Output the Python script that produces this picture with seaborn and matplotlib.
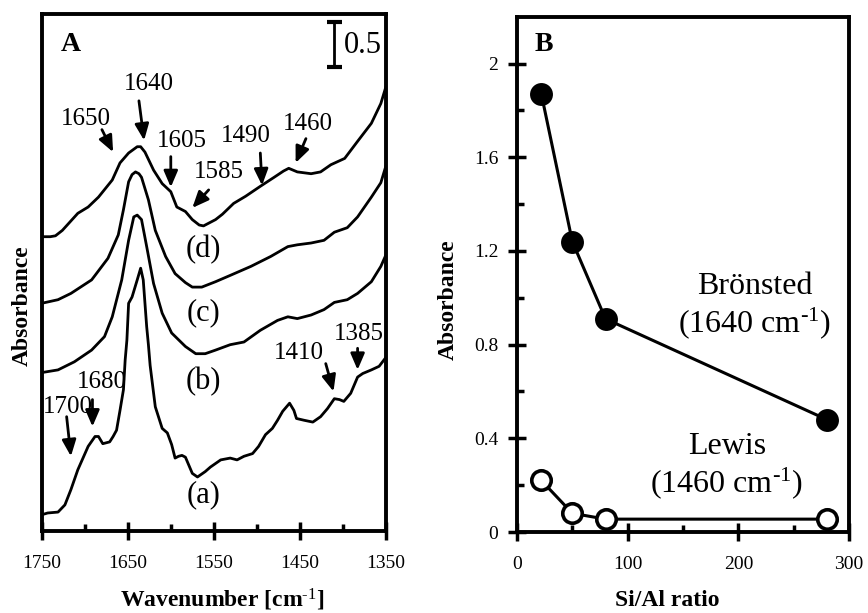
import matplotlib
matplotlib.use("Agg")
import matplotlib.pyplot as plt
import pandas as pd
import seaborn as sns
from matplotlib.ticker import FixedLocator

# ---------------- Panel A: IR spectra of adsorbed pyridine (offset stacked) ----------------
wn_a = [1750, 1743, 1731, 1723, 1716, 1708, 1696, 1688, 1684, 1679, 1671, 1667, 1663, 1659,
        1655, 1653, 1651, 1649, 1645, 1639, 1635, 1632, 1628, 1626, 1624, 1618, 1610, 1604,
        1599, 1595, 1591, 1587, 1583, 1575, 1569, 1560, 1554, 1542, 1531, 1523, 1515, 1505,
        1498, 1490, 1482, 1476, 1470, 1462, 1457, 1454, 1445, 1435, 1426, 1418, 1410, 1404,
        1399, 1391, 1383, 1377, 1367, 1358, 1350]
abs_a = [0.18, 0.20, 0.21, 0.29, 0.46, 0.68, 0.94, 1.05, 1.05, 0.97, 0.99, 1.05, 1.12, 1.34,
         1.57, 1.90, 2.12, 2.53, 2.60, 2.79, 2.92, 2.79, 2.27, 2.07, 1.84, 1.38, 1.14, 1.09,
         0.96, 0.81, 0.83, 0.84, 0.82, 0.64, 0.60, 0.66, 0.71, 0.79, 0.81, 0.79, 0.83, 0.86,
         0.94, 1.07, 1.14, 1.23, 1.33, 1.42, 1.34, 1.25, 1.23, 1.21, 1.27, 1.36, 1.47, 1.46,
         1.44, 1.53, 1.71, 1.75, 1.79, 1.83, 1.93]

wn_b = [1750, 1731, 1712, 1692, 1677, 1668, 1657, 1649, 1643, 1639, 1634, 1628, 1620, 1610,
        1599, 1583, 1571, 1560, 1548, 1531, 1515, 1496, 1476, 1464, 1453, 1437, 1422, 1410,
        1395, 1383, 1367, 1356, 1350]
abs_b = [1.76, 1.79, 1.88, 2.01, 2.16, 2.38, 2.79, 3.23, 3.49, 3.51, 3.46, 3.16, 2.75, 2.42,
         2.20, 2.05, 1.97, 1.97, 2.01, 2.07, 2.10, 2.23, 2.34, 2.38, 2.36, 2.40, 2.46, 2.54,
         2.57, 2.64, 2.77, 2.94, 3.07]

wn_c = [1750, 1731, 1716, 1692, 1688, 1673, 1661, 1655, 1649, 1645, 1641, 1637, 1634, 1626,
        1618, 1606, 1595, 1583, 1575, 1564, 1548, 1531, 1507, 1484, 1464, 1453, 1437, 1422,
        1410, 1395, 1383, 1367, 1356, 1350]
abs_c = [2.53, 2.57, 2.64, 2.79, 2.84, 3.03, 3.29, 3.57, 3.88, 3.96, 3.99, 3.97, 3.93, 3.68,
         3.34, 3.05, 2.86, 2.76, 2.71, 2.71, 2.77, 2.84, 2.94, 3.05, 3.16, 3.18, 3.20, 3.23,
         3.32, 3.37, 3.49, 3.71, 3.87, 4.06]

wn_d = [1750, 1740, 1734, 1726, 1708, 1696, 1684, 1668, 1659, 1649, 1639, 1635, 1630, 1620,
        1610, 1600, 1593, 1583, 1575, 1567, 1562, 1556, 1548, 1540, 1527, 1513, 1496, 1480,
        1469, 1463, 1453, 1437, 1426, 1414, 1398, 1383, 1367, 1356, 1350]
abs_d = [3.27, 3.27, 3.28, 3.34, 3.53, 3.60, 3.71, 3.90, 4.09, 4.20, 4.27, 4.27, 4.21, 4.01,
         3.86, 3.77, 3.60, 3.55, 3.46, 3.40, 3.39, 3.42, 3.46, 3.52, 3.64, 3.72, 3.83, 3.93,
         4.00, 4.03, 3.99, 3.97, 3.99, 4.07, 4.14, 4.33, 4.53, 4.75, 4.94]

sample_names = ["(a)", "(b)", "(c)", "(d)"]
x_ticks_a = [1750, 1650, 1550, 1450, 1350]

# peak labels: (text, text position, arrow tail, arrow tip)
peak_labels = [
    ("1650", (1699, 4.58), (1680, 4.46), (1667, 4.21)),
    ("1640", (1626, 4.97), (1637, 4.78), (1631, 4.34)),
    ("1605", (1587, 4.33), (1600, 4.16), (1600, 3.82)),
    ("1585", (1544, 3.99), (1556, 3.79), (1575, 3.59)),
    ("1490", (1513, 4.39), (1496, 4.20), (1494, 3.84)),
    ("1460", (1441, 4.52), (1443, 4.36), (1455, 4.09)),
    ("1680", (1680, 1.65), (1691, 1.46), (1691, 1.16)),
    ("1700", (1720, 1.38), (1721, 1.27), (1716, 0.83)),
    ("1410", (1451, 1.98), (1420, 1.86), (1411, 1.55)),
    ("1385", (1382, 2.19), (1383, 2.03), (1383, 1.79)),
]
sample_label_pos = [(1562, 0.40), (1562, 1.66), (1562, 2.42), (1562, 3.13)]

# ---------------- Panel B: band intensity vs Si/Al ratio ----------------
si_al = [22, 50, 80, 280]
bronsted_1640 = [1.87, 1.24, 0.91, 0.48]
lewis_1460 = [0.22, 0.08, 0.055, 0.055]
y_ticks_b = [0, 0.4, 0.8, 1.2, 1.6, 2.0]
y_ticklabels_b = ["0", "0.4", "0.8", "1.2", "1.6", "2"]
x_ticks_b = [0, 100, 200, 300]

# ---------------- style ----------------
sns.set_theme(style="ticks")
plt.rcParams.update({
    "font.family": ["Liberation Serif", "DejaVu Serif"],
    "mathtext.fontset": "custom",
    "mathtext.rm": "Liberation Serif",
    "mathtext.it": "Liberation Serif:italic",
    "mathtext.bf": "Liberation Serif:bold",
    "axes.edgecolor": "black",
    "axes.linewidth": 2.8,
    "xtick.color": "black",
    "ytick.color": "black",
    "text.color": "black",
})

fig = plt.figure(figsize=(8.68, 6.13), dpi=100)
axA = fig.add_axes([0.048, 0.1338, 0.3967, 0.8434])
axB = fig.add_axes([0.5956, 0.1321, 0.3825, 0.8407])

# ----- Panel A -----
spectra = pd.concat([
    pd.DataFrame({"wavenumber": w, "absorbance": a, "sample": s})
    for w, a, s in zip([wn_a, wn_b, wn_c, wn_d], [abs_a, abs_b, abs_c, abs_d], sample_names)
])
sns.lineplot(data=spectra, x="wavenumber", y="absorbance", units="sample", estimator=None,
             color="black", lw=2.0, ax=axA, legend=False)
axA.set_xlim(1750, 1350)
axA.set_ylim(0, 5.745)
axA.set_yticks([])
axA.xaxis.set_major_locator(FixedLocator(x_ticks_a))
axA.xaxis.set_minor_locator(FixedLocator([1700, 1600, 1500, 1400]))
axA.set_xticklabels([str(t) for t in x_ticks_a])
axA.tick_params(axis="x", which="major", direction="inout", length=13, width=2.5,
                labelsize=14, pad=11)
axA.tick_params(axis="x", which="minor", direction="in", length=5, width=2.5)
axA.set_xlabel("")
axA.set_ylabel("")

for txt, tpos, tail, tip in peak_labels:
    axA.text(tpos[0], tpos[1], txt, fontsize=18, ha="center", va="center")
    axA.annotate("", xy=tip, xytext=tail,
                 arrowprops=dict(arrowstyle="-|>,head_length=0.7,head_width=0.3",
                                 lw=2.0, color="black", shrinkA=0, shrinkB=0,
                                 mutation_scale=14))
for name, (x, y) in zip(sample_names, sample_label_pos):
    axA.text(x, y, name, fontsize=22, ha="center", va="center")

axA.text(1716, 5.41, "A", fontsize=20, fontweight="bold", ha="center", va="center")
# 0.5 absorbance scale bar
axA.plot([1410.5, 1410.5], [5.16, 5.66], color="black", lw=2.0, solid_capstyle="butt")
axA.plot([1418.5, 1401.5], [5.66, 5.66], color="black", lw=3.0, solid_capstyle="butt")
axA.plot([1418.5, 1401.5], [5.16, 5.16], color="black", lw=3.0, solid_capstyle="butt")
axA.text(1399, 5.39, "0.5", fontsize=22, ha="left", va="center")

# ----- Panel B -----
sns.lineplot(x=si_al, y=bronsted_1640, ax=axB, color="black", lw=2.2, marker="o",
             markersize=15, markerfacecolor="black", markeredgecolor="black",
             markeredgewidth=1.5)
sns.lineplot(x=si_al, y=lewis_1460, ax=axB, color="black", lw=2.2, marker="o",
             markersize=14, markerfacecolor="white", markeredgecolor="black",
             markeredgewidth=2.6)
axB.set_xlim(0, 300)
axB.set_ylim(0, 2.2)
axB.xaxis.set_major_locator(FixedLocator(x_ticks_b))
axB.xaxis.set_minor_locator(FixedLocator([50, 150, 250]))
axB.set_xticklabels([str(t) for t in x_ticks_b])
axB.yaxis.set_major_locator(FixedLocator(y_ticks_b))
axB.yaxis.set_minor_locator(FixedLocator([0.2, 0.6, 1.0, 1.4, 1.8]))
axB.set_yticklabels(y_ticklabels_b)
axB.tick_params(axis="both", which="major", direction="inout", length=13, width=2.5,
                labelsize=14)
axB.tick_params(axis="x", which="major", pad=11)
axB.tick_params(axis="y", which="major", pad=7)
axB.tick_params(axis="both", which="minor", direction="in", length=5, width=2.5)
axB.set_xlabel("")
axB.set_ylabel("")

axB.text(24.4, 2.083, "B", fontsize=20, fontweight="bold", ha="center", va="center")
axB.text(214.5, 1.046, "Brönsted", fontsize=23, ha="center", va="center")
axB.text(214.5, 0.892, r"(1640 cm$^{\text{-1}}$)", fontsize=23, ha="center", va="center")
axB.text(189.5, 0.367, "Lewis", fontsize=23, ha="center", va="center")
axB.text(189.5, 0.209, r"(1460 cm$^{\text{-1}}$)", fontsize=23, ha="center", va="center")

for ax in (axA, axB):
    for sp in ax.spines.values():
        sp.set_visible(True)
        sp.set_linewidth(2.8)
        sp.set_color("black")

# axis titles
fig.text(0.2563, 0.021, r"Wavenumber [cm$^{\text{-1}}$]", fontsize=17, fontweight="bold",
         ha="center", va="center")
fig.text(0.769, 0.020, "Si/Al ratio", fontsize=17, fontweight="bold", ha="center", va="center")
fig.text(0.0253, 0.502, "Absorbance", fontsize=17, fontweight="bold", rotation=90,
         ha="center", va="center")
fig.text(0.516, 0.511, "Absorbance", fontsize=17, fontweight="bold", rotation=90,
         ha="center", va="center")

fig.savefig("out.png", dpi=100)
